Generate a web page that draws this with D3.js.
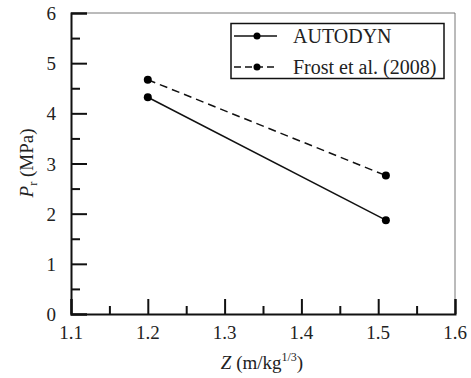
<!DOCTYPE html>
<html><head><meta charset="utf-8">
<script src="https://cdn.jsdelivr.net/npm/d3@7"></script>
<style>body{margin:0;background:#fff}svg{display:block}</style>
</head><body><svg id="c" width="471" height="378" font-family="Liberation Serif, Times New Roman, serif"></svg>
<script>
const zValues = [1.2, 1.51];
const autodyn = [4.32, 1.87];
const frost = [4.67, 2.76];
const xTicks = [1.1, 1.2, 1.3, 1.4, 1.5, 1.6];
const yTicks = [0, 1, 2, 3, 4, 5, 6];
const seriesNames = ["AUTODYN", "Frost et al. (2008)"];

const SERIF = "'Liberation Serif', 'Times New Roman', serif";
const svg = d3.select("#c");
const L = 71, R = 455, T = 13, B = 314;
const x = d3.scaleLinear().domain([1.1, 1.6]).range([L, R]);
const y = d3.scaleLinear().domain([0, 6]).range([B, T]);

// frame top/right
svg.append("path").attr("d", `M${L},${T}H${R}V${B}`).attr("fill","none").attr("stroke","#777").attr("stroke-width",1);

// x axis
const xMinor = d3.range(1.15, 1.6, 0.1);
const gx = svg.append("g").attr("transform", `translate(0,${B})`);
gx.call(d3.axisTop(x).tickValues(xTicks).tickSize(15).tickFormat(""));
gx.call(g => g.append("g").call(d3.axisTop(x).tickValues(xMinor).tickSize(8).tickFormat("")));
gx.selectAll("path.domain").attr("stroke","#111").attr("stroke-width",2);
gx.selectAll("line").attr("stroke","#111").attr("stroke-width",2);
gx.selectAll("g g path.domain").remove();
svg.append("g").selectAll("text").data(xTicks).enter().append("text")
  .attr("x", d => x(d)).attr("y", B + 25).attr("text-anchor","middle")
  .style("font-family", SERIF).attr("font-size", 19).attr("fill","#222").text(d => d3.format(".1f")(d));

// y axis
const yMinor = d3.range(0.5, 6, 1);
const gy = svg.append("g").attr("transform", `translate(${L},0)`);
gy.call(d3.axisRight(y).tickValues(yTicks).tickSize(16).tickFormat(""));
gy.call(g => g.append("g").call(d3.axisRight(y).tickValues(yMinor).tickSize(9).tickFormat("")));
gy.selectAll("path.domain").attr("stroke","#111").attr("stroke-width",2);
gy.selectAll("g g path.domain").remove();
gy.selectAll("line").attr("stroke","#111").attr("stroke-width",2);
svg.append("g").selectAll("text").data(yTicks).enter().append("text")
  .attr("x", L - 15).attr("y", d => y(d) + 7).attr("text-anchor","end")
  .style("font-family", SERIF).attr("font-size", 19).attr("fill","#222").text(d => d);

// axis titles
const xt = svg.append("text").attr("x", 262).attr("y", 369).attr("text-anchor","middle")
  .style("font-family", SERIF).attr("font-size",19).attr("fill","#222");
xt.append("tspan").attr("font-style","italic").text("Z");
xt.append("tspan").text(" (m/kg");
xt.append("tspan").attr("font-size",12).attr("dy",-8).text("1/3");
xt.append("tspan").attr("dy",8).text(")");

const yt = svg.append("text").attr("transform","translate(33,163) rotate(-90)").attr("text-anchor","middle")
  .style("font-family", SERIF).attr("font-size",19).attr("fill","#222");
yt.append("tspan").attr("font-style","italic").text("P");
yt.append("tspan").attr("font-size",12).attr("dy",4).text("r");
yt.append("tspan").attr("dy",-4).text(" (MPa)");

// data
const series = [
  {name: seriesNames[0], vals: autodyn, dash: null},
  {name: seriesNames[1], vals: frost, dash: "8,5"}
];
const line = d3.line().x(d => x(d[0])).y(d => y(d[1]));
series.forEach(s => {
  const pts = zValues.map((z, i) => [z, s.vals[i]]);
  svg.append("path").attr("d", line(pts)).attr("fill","none").attr("stroke","#111")
    .attr("stroke-width",1.5).attr("stroke-dasharray", s.dash);
  svg.selectAll(null).data(pts).enter().append("circle")
    .attr("cx", d => x(d[0])).attr("cy", d => y(d[1])).attr("r", 4).attr("fill","#000");
});

// legend
const lg = svg.append("g");
lg.append("rect").attr("x",231).attr("y",23.5).attr("width",213).attr("height",55)
  .attr("fill","#fff").attr("stroke","#111").attr("stroke-width",1.5);
series.forEach((s, i) => {
  const cy = 36 + i * 31;
  lg.append("line").attr("x1",234).attr("x2",277).attr("y1",cy).attr("y2",cy)
    .attr("stroke","#111").attr("stroke-width",1.5).attr("stroke-dasharray", s.dash ? "7,4" : null);
  lg.append("circle").attr("cx",257).attr("cy",cy).attr("r",3.5).attr("fill","#000");
  lg.append("text").attr("x",293).attr("y",cy+7).style("font-family", SERIF).attr("font-size",20).attr("fill","#222").text(s.name);
});
</script></body></html>
